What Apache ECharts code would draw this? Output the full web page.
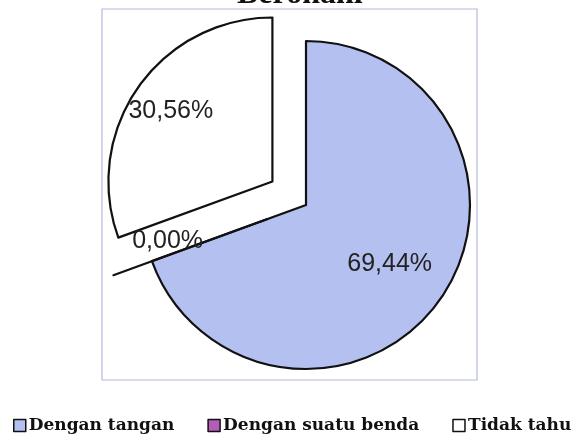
<!DOCTYPE html>
<html>
<head>
<meta charset="utf-8">
<script src="https://cdn.jsdelivr.net/npm/echarts@6/dist/echarts.min.js"></script>
<style>
  html, body { margin: 0; padding: 0; background: #fff; }
  #chart { width: 578px; height: 439px; }
</style>
</head>
<body>
<div id="chart"></div>
<script>
// data
var categories = ['Dengan tangan', 'Dengan suatu benda', 'Tidak tahu'];
var percents = [69.44, 0.00, 30.56];
var exploded = [false, true, true];

// styles
var colors = ['#b4c0f0', '#b35cb8', '#ffffff'];
var labelOffsets = [[14, 10], [-20, -7], [-32, -22]];

var chart = echarts.init(document.getElementById('chart'));

var pieData = [];
for (var i = 0; i < categories.length; i++) {
    pieData.push({
        name: categories[i],
        value: percents[i],
        selected: exploded[i],
        itemStyle: { color: colors[i] },
        label: { offset: labelOffsets[i] },
        select: { label: { offset: labelOffsets[i] } }
    });
}

var option = {
    backgroundColor: '#fff',
    animation: false,
    title: {
        text: 'Beronani',
        left: 232,
        top: -26,
        textStyle: {
            fontFamily: 'Liberation Serif',
            fontWeight: 'bold',
            fontSize: 32,
            color: '#111'
        }
    },
    graphic: [{
        type: 'rect',
        z: -1,
        shape: { x: 102, y: 9, width: 375, height: 371 },
        style: { fill: 'none', stroke: '#b4b8e0', lineWidth: 1.2 }
    }],
    legend: {
        left: 13,
        top: 417,
        width: 570,
        padding: 0,
        itemWidth: 12,
        itemHeight: 12,
        itemGap: 33,
        icon: 'rect',
        selectedMode: false,
        itemStyle: { borderColor: '#111', borderWidth: 1.5 },
        textStyle: {
            fontFamily: 'DejaVu Serif',
            fontWeight: 'bold',
            fontSize: 17,
            color: '#111',
            padding: [0, 0, 0, -2]
        },
        data: categories
    },
    series: [{
        type: 'pie',
        center: [306, 205],
        radius: 164,
        startAngle: 90,
        clockwise: true,
        selectedMode: 'multiple',
        selectedOffset: 41,
        silent: true,
        itemStyle: { borderColor: '#111', borderWidth: 2.2 },
        label: {
            show: true,
            position: 'inside',
            formatter: function (p) {
                return p.value.toFixed(2).replace('.', ',') + '%';
            },
            fontFamily: 'Liberation Sans',
            fontSize: 25,
            color: '#222'
        },
        labelLine: { show: false },
        data: pieData
    }]
};

chart.setOption(option);
</script>
</body>
</html>
